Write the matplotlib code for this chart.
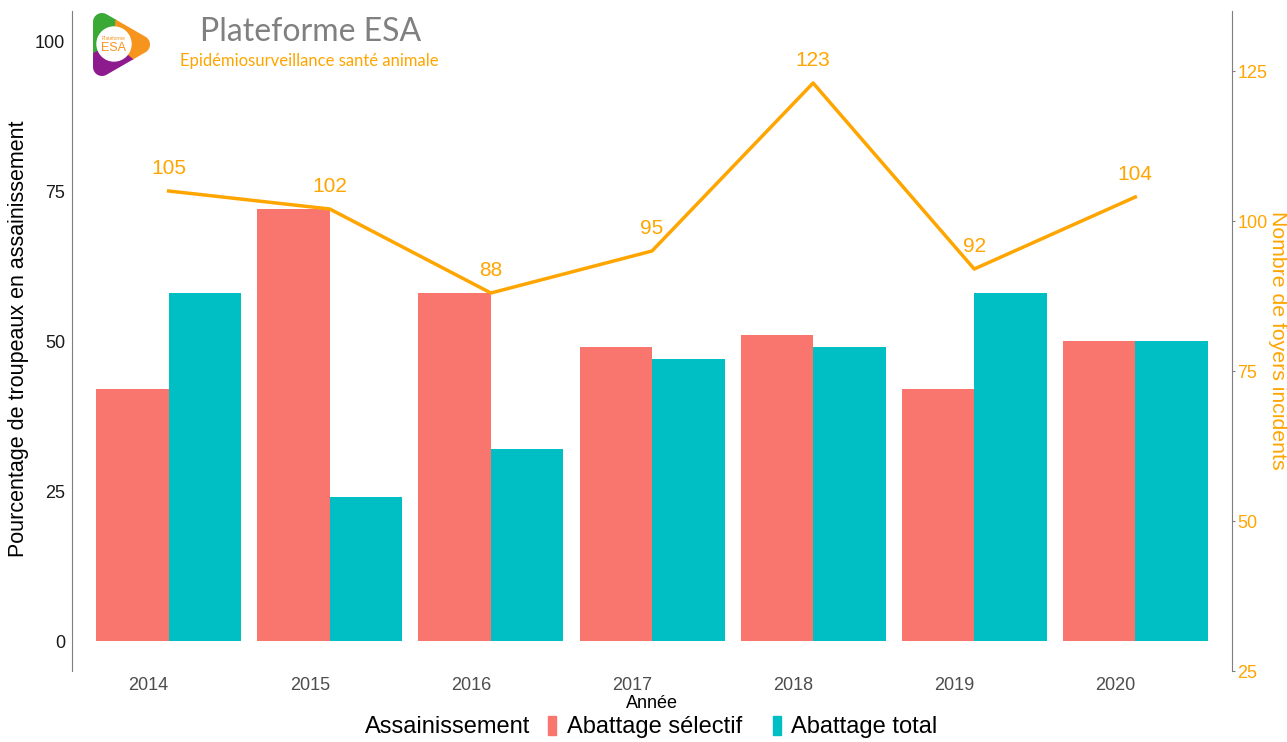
import numpy as np
import matplotlib.pyplot as plt
import matplotlib.transforms as mtransforms
from matplotlib.patches import Wedge, Circle, Polygon, Patch

plt.rcParams['font.family'] = ['Liberation Sans', 'DejaVu Sans']

# data
years = ['2014', '2015', '2016', '2017', '2018', '2019', '2020']
selectif = [42, 72, 58, 49, 51, 42, 50]
total = [58, 24, 32, 47, 49, 58, 50]
foyers = [105, 102, 88, 95, 123, 92, 104]

col_sel = '#F8766D'
col_tot = '#00BFC4'
orange = '#FFA500'

fig = plt.figure(figsize=(12.87, 7.42), dpi=100)
ax = fig.add_axes([72/1287, 71/742, (1232-72)/1287, (671-11)/742])

x = np.arange(len(years))
w = 0.45
ax.bar(x - w/2, selectif, w, color=col_sel)
ax.bar(x + w/2, total, w, color=col_tot)
ax.set_xlim(-0.6, 6.6)
ax.set_ylim(-5, 105)
ax.set_yticks([0, 25, 50, 75, 100])
ax.set_xticks(x)
ax.set_xticklabels(years)
ax.tick_params(axis='x', length=0, pad=4, labelsize=13, labelcolor='#4d4d4d')
ax.tick_params(axis='y', length=0, pad=5, labelsize=13, labelcolor='#1a1a1a')
# year labels sit a bit left of the bar groups in the original
shift = mtransforms.ScaledTranslation(-0.2, 0, fig.dpi_scale_trans)
for lab in ax.get_xticklabels():
    lab.set_transform(lab.get_transform() + shift)
for s in ['top', 'bottom', 'right']:
    ax.spines[s].set_visible(False)
ax.spines['left'].set_color('#7f7f7f')
ax.set_xlabel('Année', fontsize=13, labelpad=1)
fig.text(19/1287, 1 - 339/742, 'Pourcentage de troupeaux en assainissement',
         fontsize=15.5, rotation=90, ha='center', va='center')

# secondary axis: foyers = pourcentage + 30
ax2 = ax.twinx()
ax2.set_ylim(25, 135)
ax2.plot(x, foyers, color=orange, lw=2.5)
for xi, v in zip(x, foyers):
    ax2.annotate(str(v), (xi, v), xytext=(0, 16), textcoords='offset points',
                 ha='center', va='center', color=orange, fontsize=15)
ax2.set_yticks([25, 50, 75, 100, 125])
ax2.tick_params(axis='y', length=2, color='#7f7f7f', pad=2, labelsize=13, labelcolor=orange)
for s in ['top', 'bottom', 'left']:
    ax2.spines[s].set_visible(False)
ax2.spines['right'].set_color('#7f7f7f')
fig.text(1277/1287, 1 - 340/742, 'Nombre de foyers incidents', fontsize=15.3,
         color=orange, rotation=270, ha='center', va='center')

# legend
fig.text(365/1287, 1 - 727/742, 'Assainissement', fontsize=17, va='center', ha='left')
handles = [Patch(color=col_sel), Patch(color=col_tot)]
fig.legend(handles, ['Abattage sélectif', 'Abattage total'], ncol=2, frameon=False,
           loc='center left', bbox_to_anchor=(548/1287, 1 - 727/742), fontsize=17,
           handlelength=0.34, handleheight=0.85, handletextpad=0.45, columnspacing=1.3,
           borderpad=0, borderaxespad=0)

# logo
la = fig.add_axes([0, 0, 1, 1], zorder=5)
la.set_xlim(0, 1287)
la.set_ylim(742, 0)
la.axis('off')


def hull(pts):
    pts = sorted(map(tuple, pts))
    def half(p):
        h = []
        for q in p:
            while len(h) >= 2 and ((h[-1][0]-h[-2][0])*(q[1]-h[-2][1]) - (h[-1][1]-h[-2][1])*(q[0]-h[-2][0])) <= 0:
                h.pop()
            h.append(q)
        return h
    lo = half(pts)
    up = half(pts[::-1])
    return lo[:-1] + up[:-1]


r = 9
t = np.linspace(0, 2*np.pi, 40)
corners = [(102, 22), (102, 67), (141, 44.5)]
pts = np.vstack([np.c_[cx + r*np.cos(t), cy + r*np.sin(t)] for cx, cy in corners])
tri = Polygon(hull(pts), closed=True, transform=la.transData, facecolor='none', edgecolor='none')
la.add_patch(tri)
lx, ly = 114, 44
for a1, a2, c in [(85, 205, '#3aa935'), (-40, 85, '#f7941d'), (205, 320, '#8e1b8e')]:
    wd = Wedge((lx, ly), 60, -a2, -a1, color=c)
    la.add_patch(wd)
    wd.set_clip_path(tri)
la.add_patch(Circle((lx, ly), 17, color='white'))
la.text(lx, ly - 5, 'Plateforme', fontsize=3.5, color='#f7941d', ha='center', va='center')
la.text(lx, ly + 4, 'ESA', fontsize=9, color='#f7941d', ha='center', va='center')

la.text(200, 32, 'Plateforme ESA', fontsize=23, color='#808080', ha='left', va='center',
        family=['Lato', 'DejaVu Sans'])
la.text(180, 61, 'Epidémiosurveillance santé animale', fontsize=12, color=orange,
        ha='left', va='center', family=['Lato', 'DejaVu Sans'])

fig.savefig('out.png', dpi=100)
